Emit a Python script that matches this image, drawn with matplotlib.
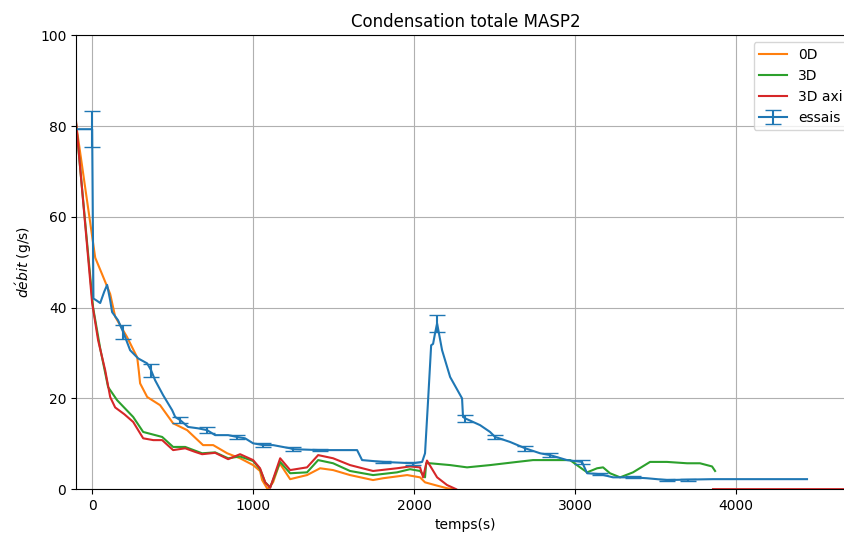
import matplotlib
matplotlib.use('Agg')
import matplotlib.pyplot as plt
import numpy as np

# --- data ---
t_0d = [-100, 19, 60, 112, 143, 217, 280, 290, 298, 342, 422, 503, 590, 689, 752, 839,
        919, 1000, 1043, 1056, 1090, 1124, 1165, 1230, 1335, 1416, 1497, 1602, 1745, 1807,
        1957, 2037, 2068, 2140, 2205, 2240]
q_0d = [80.5, 51, 47.5, 43, 38, 33.5, 29, 26, 23.3, 20.3, 18.5, 14.5, 13, 9.7, 9.7, 7.9,
        6.8, 5.3, 4, 2, 0, 1.5, 5.7, 2.2, 3.1, 4.6, 4.2, 3.1, 2, 2.4,
        3.1, 2.6, 1.5, 0.8, 0.2, 0]

t_3d = [-100, 6, 50, 99, 155, 255, 317, 435, 503, 578, 683, 764, 845, 919, 1000, 1043,
        1075, 1106, 1168, 1230, 1335, 1404, 1497, 1602, 1745, 1894, 1975, 2037, 2068, 2075,
        2099, 2224, 2329, 2472, 2640, 2739, 2888, 2969, 3031, 3075, 3137, 3174, 3217, 3280,
        3360, 3466, 3571, 3696, 3776, 3851, 3870]
q_3d = [80.5, 40, 31, 22.5, 19.6, 15.9, 12.6, 11.5, 9.3, 9.3, 7.9, 8.1, 6.8, 7.2, 6.2, 4.4,
        1.5, 0.4, 6.0, 3.5, 3.7, 6.4, 5.7, 4, 3.1, 3.7, 4.4, 4, 2.6, 5.7,
        5.7, 5.3, 4.8, 5.3, 6, 6.4, 6.4, 6.4, 4.8, 3.7, 4.6, 4.8, 3.5, 2.6,
        3.7, 6, 6, 5.7, 5.7, 5, 4]

t_axi = [-100, 0, 37, 81, 112, 143, 200, 255, 317, 380, 435, 503, 578, 640, 683, 764,
         845, 919, 1000, 1043, 1075, 1106, 1168, 1230, 1335, 1404, 1497, 1602, 1745, 1894,
         1975, 2037, 2056, 2080, 2143, 2205, 2261, np.nan, 3857, 4800]
q_axi = [81, 41, 32.8, 26.2, 20.3, 18, 16.5, 14.8, 11.2, 10.8, 10.8, 8.6, 9, 8.2, 7.7, 8,
         6.6, 7.7, 6.4, 4.6, 1.5, 0.3, 6.8, 4.2, 4.8, 7.5, 6.8, 5.3, 4, 4.6,
         5, 4.8, 2.6, 6.3, 2.6, 0.9, 0, np.nan, 0, 0]

t_essais = [-100, 0, 8, 30, 50, 75, 93, 112, 124, 161, 193, 236, 286, 342, 366, 391, 441,
            497, 516, 547, 596, 658, 714, 764, 845, 900, 950, 1000, 1062, 1124, 1230, 1248,
            1416, 1646, 1677, 1807, 1994, 2050, 2068, 2087, 2106, 2118, 2130, 2143, 2174,
            2224, 2298, 2304, 2317, 2410, 2472, 2503, 2596, 2690, 2783, 2845, 2950, 3043,
            3075, 3155, 3236, 3360, 3447, 3571, 3700, 3857, 4441]
q_essais = [79.3, 79.3, 42, 41.5, 41, 43.5, 45, 41.6, 39, 37.2, 34.6, 30.6, 28.8, 27.7, 26.2, 24, 20.7,
            17.4, 15.9, 15.2, 13.7, 13.4, 13.0, 11.9, 11.9, 11.5, 11.2, 10.1, 9.7, 9.7, 9.0, 8.8,
            8.6, 8.6, 6.4, 6.0, 5.7, 6.0, 7.9, 19.6, 31.7, 32.0, 34.3, 36.5, 30.6,
            24.7, 20.0, 15.9, 15.6, 14.1, 12.6, 11.5, 10.4, 9.0, 7.9, 7.5, 6.4, 6.0,
            3.5, 3.3, 2.6, 2.6, 2.4, 2.0, 2.1, 2.2, 2.2]
dq_essais = [0, 4.0, 0, 0, 0, 0, 0, 0, 0, 0, 1.6, 0, 0, 0, 1.4, 0, 0,
             0, 0, 0.7, 0, 0, 0.6, 0, 0, 0.5, 0, 0, 0.4, 0, 0, 0.4,
             0.3, 0, 0, 0.3, 0.3, 0, 0, 0, 0, 0, 0, 1.9, 0,
             0, 0, 0, 0.75, 0, 0, 0.5, 0, 0.5, 0, 0.4, 0, 0.4,
             0, 0.2, 0, 0.2, 0, 0.2, 0.2, 0, 0]

fig = plt.figure(figsize=(8.45, 5.34), dpi=100)
ax = fig.add_axes([0.09, 0.084, 0.922, 0.85])

ax.plot(t_0d, q_0d, color='C1', label='0D')
ax.plot(t_3d, q_3d, color='C2', label='3D')
ax.plot(t_axi, q_axi, color='C3', label='3D axi')
dq = np.array(dq_essais)
ax.errorbar(t_essais, q_essais, yerr=dq, errorevery=dq > 0, color='C0',
            capsize=6, label='essais')

ax.set_xlim(-100, 4740)
ax.set_ylim(0, 100)
ax.set_xticks([0, 1000, 2000, 3000, 4000])
ax.grid(True)
ax.set_title('Condensation totale MASP2')
ax.set_xlabel('temps(s)')
ax.set_ylabel(r'$d\acute{e}bit$ (g/s)')
ax.legend(loc='upper right')

fig.savefig('out.png', dpi=100)
